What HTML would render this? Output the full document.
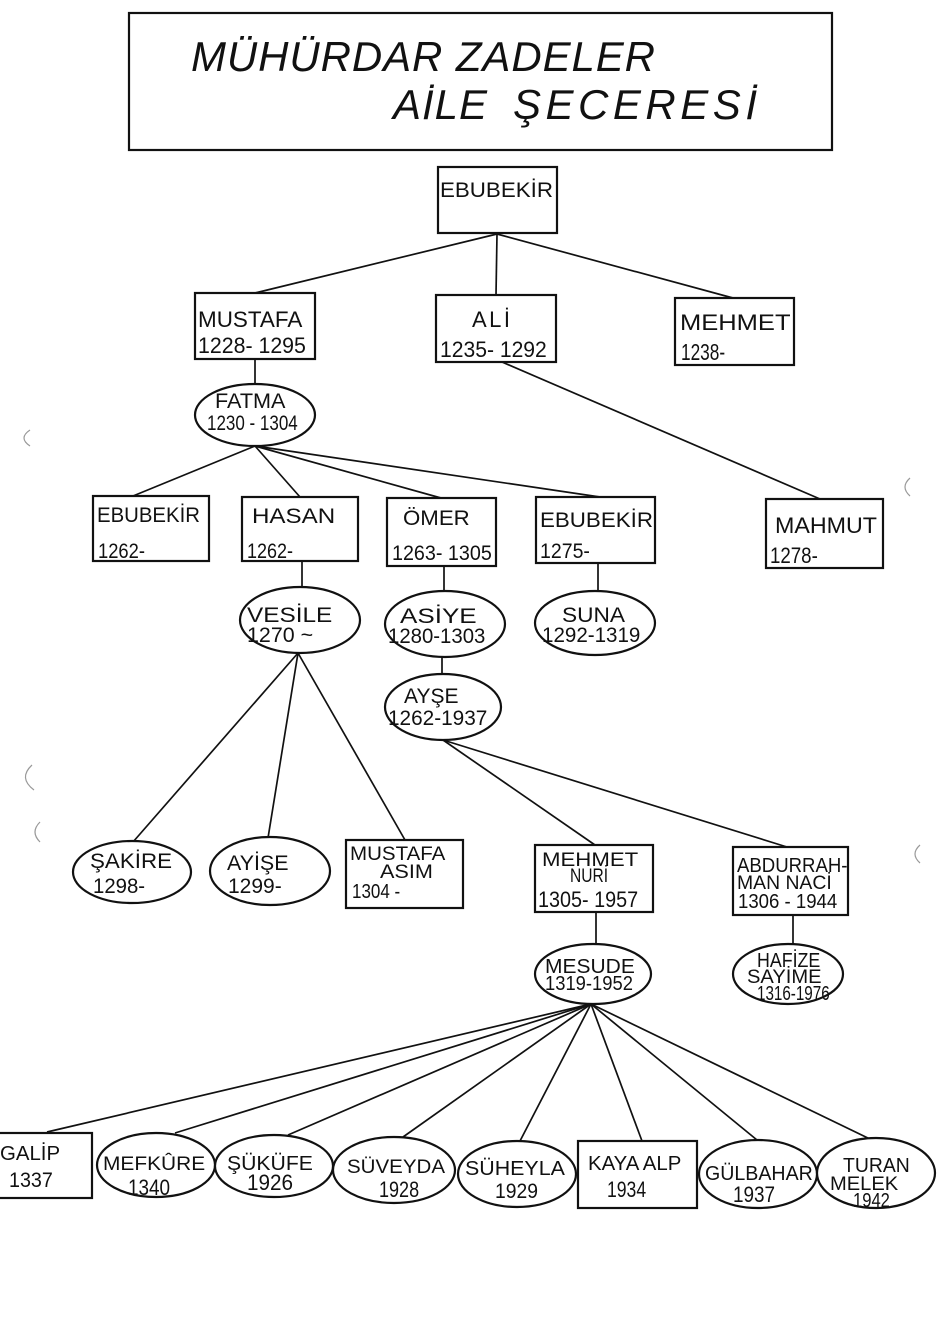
<!DOCTYPE html>
<html>
<head>
<meta charset="utf-8">
<style>
html,body{margin:0;padding:0;background:#fff;}
svg{display:block;}
text{font-family:"Liberation Sans",sans-serif;fill:#111;}
.t{font-style:italic;}
</style>
</head>
<body>
<svg width="939" height="1335" viewBox="0 0 939 1335" xmlns="http://www.w3.org/2000/svg">
<rect x="0" y="0" width="939" height="1335" fill="#fff"/>

<!-- Title -->
<rect x="129" y="13" width="703" height="137" fill="none" stroke="#111" stroke-width="2.2"/>
<text class="t" x="191" y="71" font-size="42" textLength="464" lengthAdjust="spacing">MÜHÜRDAR ZADELER</text>
<text class="t" x="393" y="119" font-size="42" textLength="94" lengthAdjust="spacing">AİLE</text>
<text class="t" x="513" y="119" font-size="42" textLength="244" lengthAdjust="spacing">ŞECERESİ</text>

<!-- connectors -->
<g stroke="#111" stroke-width="1.7" fill="none">
  <line x1="497" y1="234" x2="255" y2="293"/>
  <line x1="497" y1="234" x2="496" y2="295"/>
  <line x1="497" y1="234" x2="733" y2="298"/>
  <line x1="255" y1="359" x2="255" y2="384"/>
  <line x1="502" y1="362" x2="820" y2="499"/>
  <line x1="255" y1="446" x2="133" y2="496"/>
  <line x1="255" y1="446" x2="300" y2="497"/>
  <line x1="255" y1="446" x2="441" y2="498"/>
  <line x1="255" y1="446" x2="600" y2="497"/>
  <line x1="302" y1="561" x2="302" y2="588"/>
  <line x1="444" y1="566" x2="444" y2="591"/>
  <line x1="598" y1="563" x2="598" y2="591"/>
  <line x1="442" y1="657" x2="442" y2="674"/>
  <line x1="298" y1="653" x2="133" y2="842"/>
  <line x1="298" y1="653" x2="268" y2="838"/>
  <line x1="298" y1="653" x2="405" y2="840"/>
  <line x1="443" y1="740" x2="595" y2="845"/>
  <line x1="443" y1="740" x2="787" y2="847"/>
  <line x1="596" y1="912" x2="596" y2="944"/>
  <line x1="793" y1="915" x2="793" y2="945"/>
  <line x1="591" y1="1004" x2="47" y2="1132"/>
  <line x1="591" y1="1004" x2="175" y2="1133"/>
  <line x1="591" y1="1004" x2="288" y2="1135"/>
  <line x1="591" y1="1004" x2="403" y2="1137"/>
  <line x1="591" y1="1004" x2="520" y2="1141"/>
  <line x1="591" y1="1004" x2="642" y2="1141"/>
  <line x1="591" y1="1004" x2="757" y2="1140"/>
  <line x1="591" y1="1004" x2="872" y2="1140"/>
</g>

<!-- boxes -->
<g stroke="#111" stroke-width="2.2" fill="#fff">
  <rect x="438" y="167" width="119" height="66"/>
  <rect x="195" y="293" width="120" height="66"/>
  <rect x="436" y="295" width="120" height="67"/>
  <rect x="675" y="298" width="119" height="67"/>
  <rect x="93" y="496" width="116" height="65"/>
  <rect x="242" y="497" width="116" height="64"/>
  <rect x="387" y="498" width="109" height="68"/>
  <rect x="536" y="497" width="119" height="66"/>
  <rect x="766" y="499" width="117" height="69"/>
  <rect x="346" y="840" width="117" height="68"/>
  <rect x="535" y="845" width="118" height="67"/>
  <rect x="733" y="847" width="115" height="68"/>
  <rect x="-5" y="1133" width="97" height="65"/>
  <rect x="578" y="1141" width="119" height="67"/>
</g>

<!-- ellipses -->
<g stroke="#111" stroke-width="2.2" fill="#fff">
  <ellipse cx="255" cy="415" rx="60" ry="31"/>
  <ellipse cx="300" cy="620" rx="60" ry="33"/>
  <ellipse cx="445" cy="624" rx="60" ry="33"/>
  <ellipse cx="595" cy="623" rx="60" ry="32"/>
  <ellipse cx="443" cy="707" rx="58" ry="33"/>
  <ellipse cx="132" cy="872" rx="59" ry="31"/>
  <ellipse cx="270" cy="871" rx="60" ry="34"/>
  <ellipse cx="593" cy="974" rx="58" ry="30"/>
  <ellipse cx="788" cy="974" rx="55" ry="30"/>
  <ellipse cx="156" cy="1165" rx="59" ry="32"/>
  <ellipse cx="274" cy="1166" rx="59" ry="31"/>
  <ellipse cx="394" cy="1170" rx="61" ry="33"/>
  <ellipse cx="517" cy="1174" rx="59" ry="33"/>
  <ellipse cx="758" cy="1174" rx="59" ry="34"/>
  <ellipse cx="876" cy="1173" rx="59" ry="35"/>
</g>

<!-- labels -->
<g font-size="21">
  <text transform="translate(440 197) scale(1.064 1)">EBUBEKİR</text>

  <text font-size="22" transform="translate(198 327) scale(1.02 1)">MUSTAFA</text>
  <text font-size="22" transform="translate(198 353) scale(0.97 1)">1228- 1295</text>
  <text x="472" y="327" font-size="22" textLength="38" lengthAdjust="spacing">ALİ</text>
  <text font-size="22" transform="translate(440 357) scale(0.96 1)">1235- 1292</text>
  <text font-size="22" transform="translate(680 330) scale(1.16 1)">MEHMET</text>
  <text font-size="23" transform="translate(681 360) scale(0.75 1)">1238-</text>

  <text transform="translate(215 408) scale(1.03 1)">FATMA</text>
  <text transform="translate(207 430) scale(0.81 1)">1230 - 1304</text>

  <text transform="translate(97 522) scale(0.97 1)">EBUBEKİR</text>
  <text transform="translate(98 558) scale(0.875 1)">1262-</text>
  <text transform="translate(252 523) scale(1.15 1)">HASAN</text>
  <text transform="translate(247 558) scale(0.857 1)">1262-</text>
  <text transform="translate(403 525) scale(1.06 1)">ÖMER</text>
  <text transform="translate(392 560) scale(0.94 1)">1263- 1305</text>
  <text transform="translate(540 527) scale(1.064 1)">EBUBEKİR</text>
  <text transform="translate(540 558) scale(0.93 1)">1275-</text>
  <text font-size="22" transform="translate(775 533) scale(1.057 1)">MAHMUT</text>
  <text font-size="22" transform="translate(770 563) scale(0.85 1)">1278-</text>

  <text transform="translate(247 622) scale(1.16 1)">VESİLE</text>
  <text transform="translate(247 642) scale(1.02 1)">1270 ~</text>
  <text transform="translate(400 623) scale(1.24 1)">ASİYE</text>
  <text transform="translate(388 643) scale(0.97 1)">1280-1303</text>
  <text transform="translate(562 622) scale(1.08 1)">SUNA</text>
  <text transform="translate(542 642) scale(0.98 1)">1292-1319</text>
  <text transform="translate(404 703) scale(1 1)">AYŞE</text>
  <text transform="translate(388 725) scale(0.99 1)">1262-1937</text>

  <text transform="translate(90 868) scale(1.065 1)">ŞAKİRE</text>
  <text transform="translate(93 893) scale(0.97 1)">1298-</text>
  <text transform="translate(227 870) scale(1.02 1)">AYİŞE</text>
  <text transform="translate(228 893) scale(1 1)">1299-</text>
  <text font-size="19" transform="translate(350 860) scale(1.08 1)">MUSTAFA</text>
  <text font-size="19" transform="translate(380 878) scale(1.14 1)">ASIM</text>
  <text font-size="20" transform="translate(352 898) scale(0.85 1)">1304 -</text>

  <text font-size="19" transform="translate(542 866) scale(1.17 1)">MEHMET</text>
  <text font-size="19" transform="translate(570 882) scale(0.82 1)">NURİ</text>
  <text font-size="22" transform="translate(538 907) scale(0.9 1)">1305- 1957</text>
  <text font-size="20" transform="translate(737 872) scale(0.93 1)">ABDURRAH-</text>
  <text font-size="19" transform="translate(737 889) scale(1.02 1)">MAN NACİ</text>
  <text font-size="20" transform="translate(738 908) scale(0.93 1)">1306 - 1944</text>

  <text font-size="20" transform="translate(545 973) scale(1.05 1)">MESUDE</text>
  <text font-size="20" transform="translate(545 990) scale(0.92 1)">1319-1952</text>
  <text font-size="20" transform="translate(757 967) scale(0.89 1)">HAFİZE</text>
  <text font-size="19" transform="translate(747 983) scale(1.06 1)">SAYİME</text>
  <text font-size="20" transform="translate(757 1000) scale(0.76 1)">1316-1976</text>

  <text font-size="20" transform="translate(0 1160) scale(1.02 1)">GALİP</text>
  <text font-size="21" transform="translate(9 1187) scale(0.94 1)">1337</text>
  <text font-size="19" transform="translate(103 1170) scale(1.1 1)">MEFKÛRE</text>
  <text font-size="22" transform="translate(128 1195) scale(0.86 1)">1340</text>
  <text font-size="20" transform="translate(227 1170) scale(1.06 1)">ŞÜKÜFE</text>
  <text font-size="22" transform="translate(247 1190) scale(0.94 1)">1926</text>
  <text font-size="19" transform="translate(347 1173) scale(1.08 1)">SÜVEYDA</text>
  <text font-size="22" transform="translate(379 1197) scale(0.82 1)">1928</text>
  <text font-size="20" transform="translate(465 1175) scale(1.07 1)">SÜHEYLA</text>
  <text font-size="21" transform="translate(495 1198) scale(0.92 1)">1929</text>
  <text font-size="20" transform="translate(588 1170) scale(1.02 1)">KAYA ALP</text>
  <text font-size="22" transform="translate(607 1197) scale(0.8 1)">1934</text>
  <text font-size="20" transform="translate(705 1180) scale(0.98 1)">GÜLBAHAR</text>
  <text font-size="22" transform="translate(733 1202) scale(0.86 1)">1937</text>
  <text font-size="20" transform="translate(843 1172) scale(0.97 1)">TURAN</text>
  <text font-size="19" transform="translate(830 1190) scale(1.06 1)">MELEK</text>
  <text font-size="20" transform="translate(853 1207) scale(0.83 1)">1942</text>
</g>

<!-- scan artifacts -->
<g stroke="#999" stroke-width="1.2" fill="none">
  <path d="M30 430 Q18 438 30 446"/>
  <path d="M32 765 Q18 778 34 790"/>
  <path d="M40 822 Q30 832 40 842"/>
  <path d="M910 478 Q900 487 910 496"/>
  <path d="M920 845 Q910 854 920 863"/>
</g>
</svg>
</body>
</html>
